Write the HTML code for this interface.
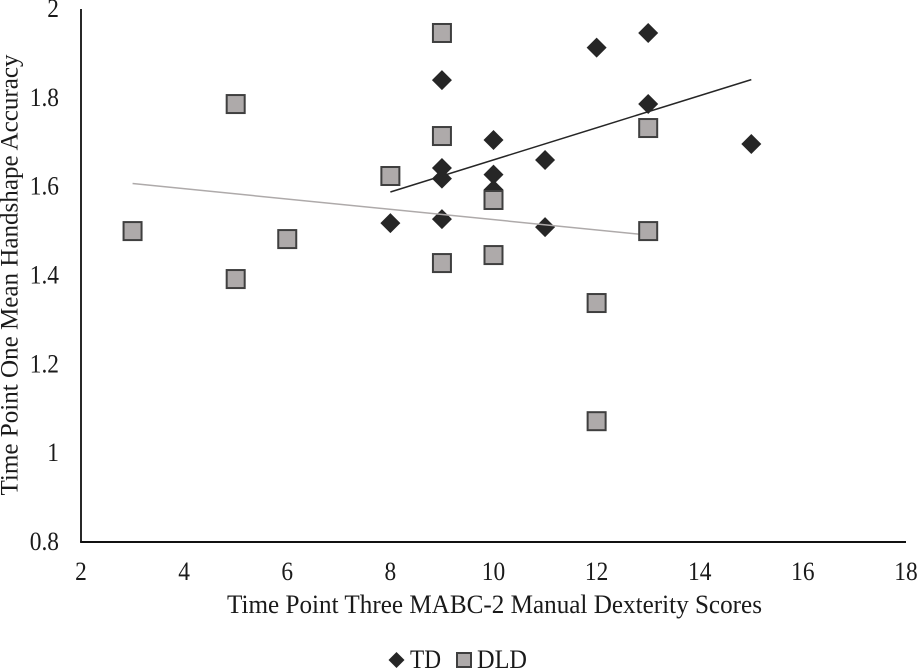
<!DOCTYPE html>
<html lang="en">
<head>
<meta charset="utf-8">
<title>Scatter chart</title>
<style>
html,body{margin:0;padding:0;background:#fff;width:917px;height:668px;overflow:hidden}
svg{display:block}
text{font-family:"Liberation Serif",serif;fill:#1a1a1a;font-size:26px}
</style>
</head>
<body>
<svg id="chart" xmlns="http://www.w3.org/2000/svg" width="917" height="668" viewBox="0 0 917 668">
<g id="marks"></g>
<text x="227" y="613" textLength="535" lengthAdjust="spacingAndGlyphs">Time Point Three MABC-2 Manual Dexterity Scores</text>
<text transform="translate(17.5,495.5) rotate(-90)" x="0" y="0" font-size="25" style="font-size:25px" textLength="441" lengthAdjust="spacingAndGlyphs">Time Point One Mean Handshape Accuracy</text>
<g>
<polygon points="396.5,652 404.5,660 396.5,668 388.5,660" fill="#262626"/>
<text x="410" y="668" textLength="31" lengthAdjust="spacingAndGlyphs">TD</text>
<rect x="457" y="653" width="14" height="14" fill="#aeaaaa" stroke="#3f3f3f" stroke-width="2"/>
<text x="477" y="668" textLength="50" lengthAdjust="spacingAndGlyphs">DLD</text>
</g>
</svg>
<script>
const xTicks = [2, 4, 6, 8, 10, 12, 14, 16, 18];
const yTicks = [0.8, 1, 1.2, 1.4, 1.6, 1.8, 2];
const tdX = [9, 12, 13, 13, 10, 11, 15, 9, 9, 10, 10, 8, 9, 11];
const tdY = [1.84, 1.913, 1.946, 1.786, 1.705, 1.66, 1.696, 1.642, 1.618, 1.627, 1.593, 1.518, 1.527, 1.509];
const dldX = [9, 5, 9, 13, 8, 10, 3, 13, 6, 10, 9, 5, 12, 12];
const dldY = [1.946, 1.786, 1.714, 1.732, 1.624, 1.57, 1.5, 1.5, 1.482, 1.446, 1.428, 1.392, 1.338, 1.072];
const tdTrendX = [8, 15];
const tdTrendY = [1.588, 1.841];
const dldTrendX = [3, 13];
const dldTrendY = [1.607, 1.491];

const NS = 'http://www.w3.org/2000/svg';
const marks = document.getElementById('marks');
const xScale = v => 81 + (v - 2) * (906 - 81) / 16;
const yScale = v => 542 - (v - 0.8) * (542 - 9) / 1.2;

function make(tag, attrs, text) {
  const el = document.createElementNS(NS, tag);
  for (const k in attrs) el.setAttribute(k, attrs[k]);
  if (text !== undefined) el.textContent = text;
  marks.appendChild(el);
  return el;
}

const yAxis = make('line', {x1: xScale(2), x2: xScale(2), y1: yScale(2), y2: yScale(0.8), stroke: '#111', 'stroke-width': 1.8});


const xAxis = make('line', {x1: xScale(2) - 0.9, x2: xScale(18), y1: yScale(0.8), y2: yScale(0.8), stroke: '#111', 'stroke-width': 2});



xTicks.forEach(t => {
  const el = make('text', {transform: `translate(${xScale(t)},580) scale(0.9,1)`, 'text-anchor': 'middle'}, String(t));
  
  
});
yTicks.forEach(t => {
  const el = make('text', {transform: `translate(59,${yScale(t) + 8}) scale(0.9,1)`, 'text-anchor': 'end'}, String(t));
  
  
});

tdX.forEach((x, i) => {
  const cx = xScale(x), cy = yScale(tdY[i]), r = 10;
  const el = make('polygon', {points: `${cx},${cy - r} ${cx + r},${cy} ${cx},${cy + r} ${cx - r},${cy}`, fill: '#262626'});
  
  
});

const tdTrend = make('line', {x1: xScale(tdTrendX[0]), y1: yScale(tdTrendY[0]), x2: xScale(tdTrendX[1]), y2: yScale(tdTrendY[1]), stroke: '#262626', 'stroke-width': 1.5});


const dldTrend = make('line', {x1: xScale(dldTrendX[0]), y1: yScale(dldTrendY[0]), x2: xScale(dldTrendX[1]), y2: yScale(dldTrendY[1]), stroke: '#aeaaaa', 'stroke-width': 1.5});



dldX.forEach((x, i) => {
  const cx = xScale(x), cy = yScale(dldY[i]), s = 18;
  const el = make('rect', {x: cx - s / 2, y: cy - s / 2, width: s, height: s, fill: '#aeaaaa', stroke: '#3f3f3f', 'stroke-width': 2});
  
  
});
</script>
</body>
</html>
